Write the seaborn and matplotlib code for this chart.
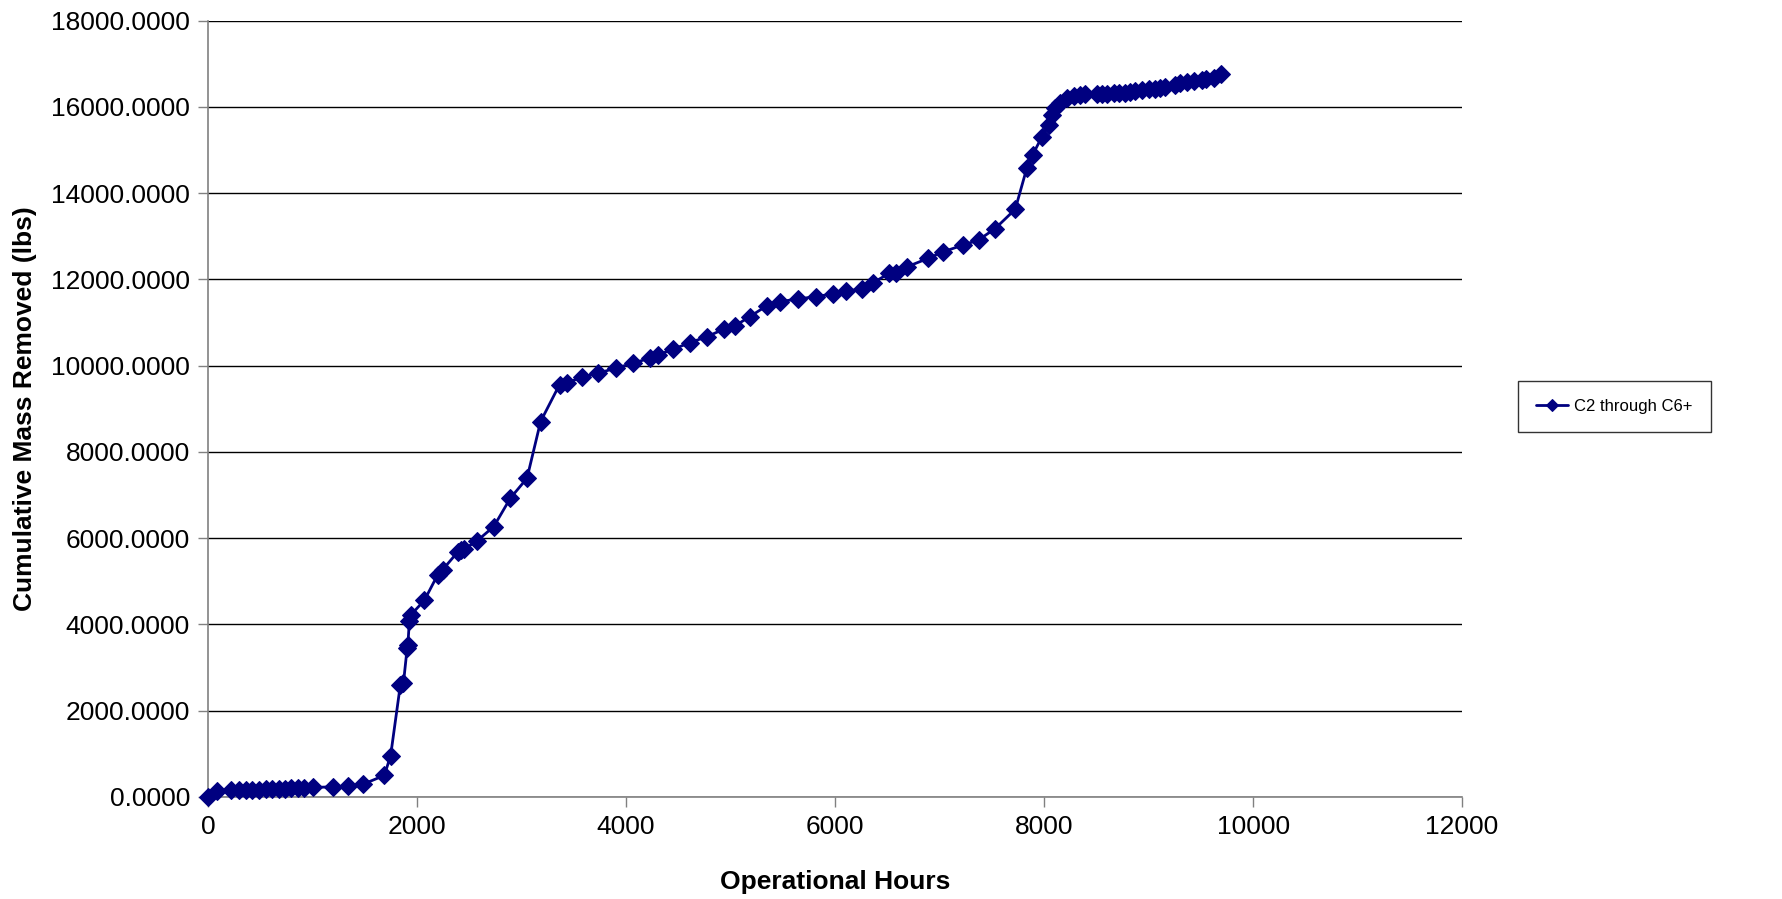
import matplotlib
matplotlib.use("Agg")
import matplotlib.pyplot as plt
import pandas as pd
import seaborn as sns

# Cumulative hydrocarbon mass removed versus operating time
hours = [0, 89, 217, 297, 361, 424, 488, 552, 616, 680, 738, 792, 856, 920, 1000,
         1191, 1335, 1478, 1687, 1747, 1840, 1870, 1905, 1912, 1926, 1942, 2070,
         2197, 2245, 2389, 2420, 2453, 2575, 2734, 2893, 3052, 3182, 3363, 3430,
         3577, 3731, 3900, 4067, 4226, 4306, 4450, 4612, 4775, 4935, 5041, 5184,
         5344, 5472, 5647, 5817, 5977, 6104, 6255, 6366, 6519, 6583, 6692, 6893,
         7037, 7229, 7373, 7532, 7724, 7836, 7890, 7980, 8043, 8076, 8107, 8155,
         8219, 8283, 8347, 8395, 8507, 8555, 8603, 8666, 8714, 8778, 8826, 8874,
         8938, 9002, 9066, 9114, 9162, 9257, 9305, 9369, 9433, 9513, 9545, 9624,
         9690]
mass_lbs = [0, 140, 150, 155, 160, 165, 170, 175, 180, 190, 195, 200, 205, 210, 220,
            235, 250, 290, 500, 960, 2600, 2650, 3450, 3530, 4070, 4225, 4560,
            5150, 5270, 5680, 5720, 5750, 5940, 6270, 6930, 7390, 8705, 9560, 9600,
            9733, 9826, 9942, 10058, 10174, 10250, 10382, 10535, 10675, 10846, 10922, 11138,
            11386, 11486, 11548, 11602, 11664, 11734, 11773, 11926, 12144, 12158, 12297, 12491,
            12644, 12800, 12915, 13180, 13627, 14591, 14885, 15310, 15580, 15812, 15967, 16097,
            16199, 16253, 16276, 16292, 16300, 16305, 16310, 16315, 16320, 16330, 16352, 16360,
            16392, 16408, 16425, 16435, 16468, 16507, 16547, 16580, 16590, 16623, 16640, 16663,
            16770]
series_name = "C2 through C6+"
x_ticks = [0, 2000, 4000, 6000, 8000, 10000, 12000]
y_ticks = [0, 2000, 4000, 6000, 8000, 10000, 12000, 14000, 16000, 18000]

df = pd.DataFrame({"Operational Hours": hours, "Cumulative Mass Removed (lbs)": mass_lbs})

sns.set_theme(style="white")
plt.rcParams["font.family"] = ["Liberation Sans", "DejaVu Sans"]
plt.rcParams["text.color"] = "black"
plt.rcParams["axes.labelcolor"] = "black"

fig = plt.figure(figsize=(17.83, 8.99), dpi=100)
ax = fig.add_axes([0.1167, 0.1135, 0.7033, 0.8635])

navy = "#000080"
sns.lineplot(data=df, x="Operational Hours", y="Cumulative Mass Removed (lbs)",
             ax=ax, color=navy, linewidth=2.0, marker="D", markersize=8.8,
             markeredgecolor=navy, markerfacecolor=navy, estimator=None, sort=False,
             label=series_name, clip_on=False, zorder=3)

ax.set_xlim(0, 12000)
ax.set_ylim(0, 18000)
ax.set_xticks(x_ticks)
ax.set_yticks(y_ticks)
ax.set_xticklabels([str(v) for v in x_ticks])
ax.set_yticklabels([f"{v:.4f}" for v in y_ticks])

ax.yaxis.grid(True, color="black", linewidth=1.0)
ax.xaxis.grid(False)
ax.set_axisbelow(True)

for side in ("top", "right"):
    ax.spines[side].set_visible(False)
for side in ("left", "bottom"):
    ax.spines[side].set_color("#808080")
    ax.spines[side].set_linewidth(1.2)

ax.tick_params(axis="both", which="major", direction="out", length=7, width=1,
               color="#808080", labelsize=19, labelcolor="black", pad=6,
               left=True, bottom=True)

ax.set_xlabel("Operational Hours", fontsize=19, fontweight="bold", labelpad=22,
              color="black")
ax.set_ylabel("Cumulative Mass Removed (lbs)", fontsize=19, fontweight="bold",
              labelpad=10, color="black")

leg = ax.legend(loc="center left", bbox_to_anchor=(0.8514, 0.548),
                bbox_transform=fig.transFigure, fontsize=12, frameon=True,
                fancybox=False, borderpad=1.1, handlelength=1.9, handletextpad=0.35,
                borderaxespad=0, markerscale=0.75)
leg.get_frame().set_edgecolor("black")
leg.get_frame().set_linewidth(1.0)
for txt in leg.get_texts():
    txt.set_color("black")

fig.savefig("out.png", dpi=100)
